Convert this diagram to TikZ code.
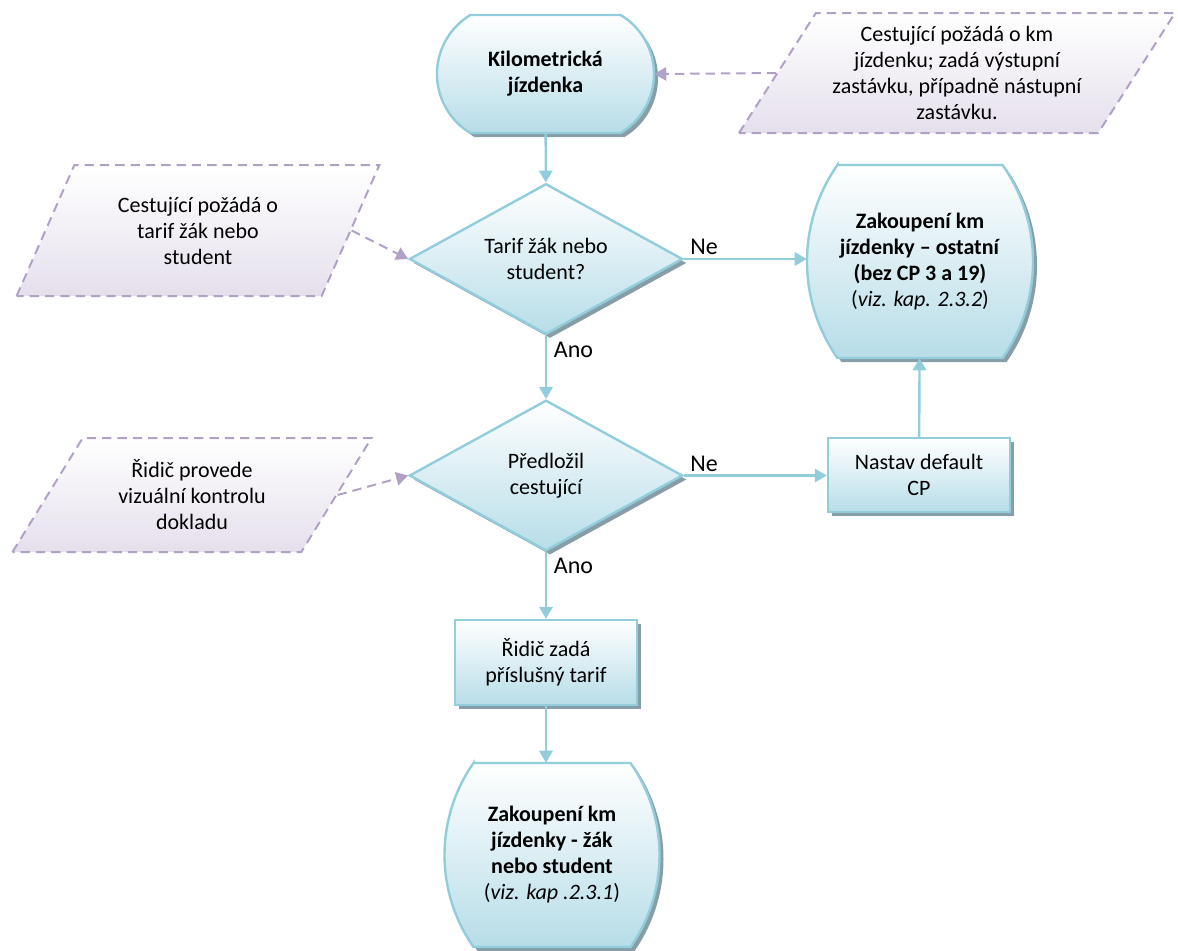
\documentclass[tikz,border=0pt]{standalone}
\usepackage{fontspec}
\setmainfont{Carlito}
\usetikzlibrary{shapes.geometric,shadows,arrows.meta}
\definecolor{flowline}{RGB}{146,205,220}
\definecolor{flowfill}{RGB}{183,221,232}
\definecolor{noteline}{RGB}{178,161,199}
\definecolor{notefill}{RGB}{229,223,236}
\definecolor{shadegray}{RGB}{135,158,168}
% outline of a terminal box: centre x, centre y, half width, half height, half arc angle
\newcommand{\termshape}[5]{%
	\pgfmathsetmacro\termr{#4/sin(#5)}%
	\pgfmathsetmacro\termb{\termr*(1-cos(#5))}%
	\path[boxlook] (#1-#3+\termb,#2-#4) -- (#1+#3-\termb,#2-#4)
		arc[start angle=-#5,end angle=#5,radius=\termr] -- (#1-#3+\termb,#2+#4)
		arc[start angle=180-#5,end angle=180+#5,radius=\termr] -- cycle;}
\begin{document}
\begin{tikzpicture}[x=0.75pt,y=-0.75pt,
	every node/.style={font=\fontsize{16.5}{19.5}\selectfont,align=center},
	boxlook/.style={draw=flowline,line width=1.8pt,top color=white,bottom color=flowfill,
		drop shadow={shadow xshift=3pt,shadow yshift=-3pt,fill=shadegray,opacity=1}},
	termbox/.style={rectangle,inner sep=0pt},
	decision/.style={boxlook,diamond,aspect=1.8,inner sep=0pt,minimum width=205pt,minimum height=113pt},
	process/.style={boxlook,rectangle,inner sep=0pt,minimum width=136.5pt},
	note/.style={trapezium,trapezium stretches=true,draw=noteline,line width=1.5pt,
		dash pattern=on 7pt off 4.5pt,top color=white,bottom color=notefill,inner sep=0pt},
	flow/.style={draw=flowline,line width=1.8pt,-{Triangle[length=9pt,width=10pt]}},
	link/.style={draw=noteline,line width=1.5pt,dash pattern=on 7pt off 4.5pt,-{Triangle[length=9pt,width=10pt]}},
	answer/.style={inner sep=2pt,font=\fontsize{18}{20}\selectfont}]
\useasboundingbox (0,0) rectangle (1178,950);

% terminal boxes
\termshape{545.5}{74}{108.5}{59}{59}
\node[termbox,minimum width=162.75pt,minimum height=88.5pt] (start) at (545.5,74)
	{\textbf{Kilometrická}\\ \textbf{jízdenka}};
\termshape{920}{261.5}{113}{96.5}{35}
\node[termbox,minimum width=169.5pt,minimum height=144.75pt] (ostatni) at (920,261.5)
	{\textbf{Zakoupení km}\\ \textbf{jízdenky – ostatní}\\ \textbf{(bez CP 3 a 19)}\\ (\textit{viz. kap. 2.3.2})};
\termshape{552}{855}{107.5}{92}{35}
\node[termbox,minimum width=161.25pt,minimum height=138pt] (zak) at (552,855)
	{\textbf{Zakoupení km}\\ \textbf{jízdenky - žák}\\ \textbf{nebo student}\\ (\textit{viz. kap .2.3.1})};

% main flow
\node[decision] (tarif) at (546,259) {Tarif žák nebo\\ student?};
\node[decision] (doklad) at (546,475.5) {Předložil\\ cestující};
\node[process,minimum height=63.75pt] (zadat) at (546,662.5) {Řidič zadá\\ příslušný tarif};
\node[process,minimum height=55.5pt] (nastav) at (919,475) {Nastav default\\ CP};

% notes
\node[note,trapezium left angle=54,trapezium right angle=126,minimum width=328.5pt,minimum height=90pt] (pozadavek) at (957,73)
	{Cestující požádá o km\\ jízdenku; zadá výstupní\\ zastávku, případně nástupní\\ zastávku.};
\node[note,trapezium left angle=61,trapezium right angle=119,minimum width=272.25pt,minimum height=98.25pt] (student) at (198,230.5)
	{Cestující požádá o\\ tarif žák nebo\\ student};
\node[note,trapezium left angle=56,trapezium right angle=124,minimum width=270pt,minimum height=85.5pt] (kontrola) at (192,495)
	{Řidič provede\\ vizuální kontrolu\\ dokladu};

% connectors
\draw[flow] (start) -- (tarif);
\draw[flow] (tarif.east) -- node[answer,pos=0,anchor=south west,xshift=2pt]{Ne} (tarif.east -| ostatni.west);
\draw[flow] (tarif) -- node[answer,pos=0,anchor=north west,xshift=3pt,yshift=-2pt]{Ano} (doklad);
\draw[flow] (doklad.east) -- node[answer,pos=0,anchor=south west,xshift=2pt]{Ne} (doklad.east -| nastav.west);
\draw[flow] (doklad) -- node[answer,pos=0,anchor=north west,xshift=3pt,yshift=-2pt]{Ano} (zadat);
\draw[flow] (zadat.south) -- (zadat.south |- zak.north);
\draw[flow] (nastav) -- (ostatni);
\draw[link] (pozadavek.west) -- (start.east);
\draw[link] (student.east) -- (tarif.west);
\draw[link] (kontrola.east) -- (doklad.west);
\end{tikzpicture}
\end{document}
